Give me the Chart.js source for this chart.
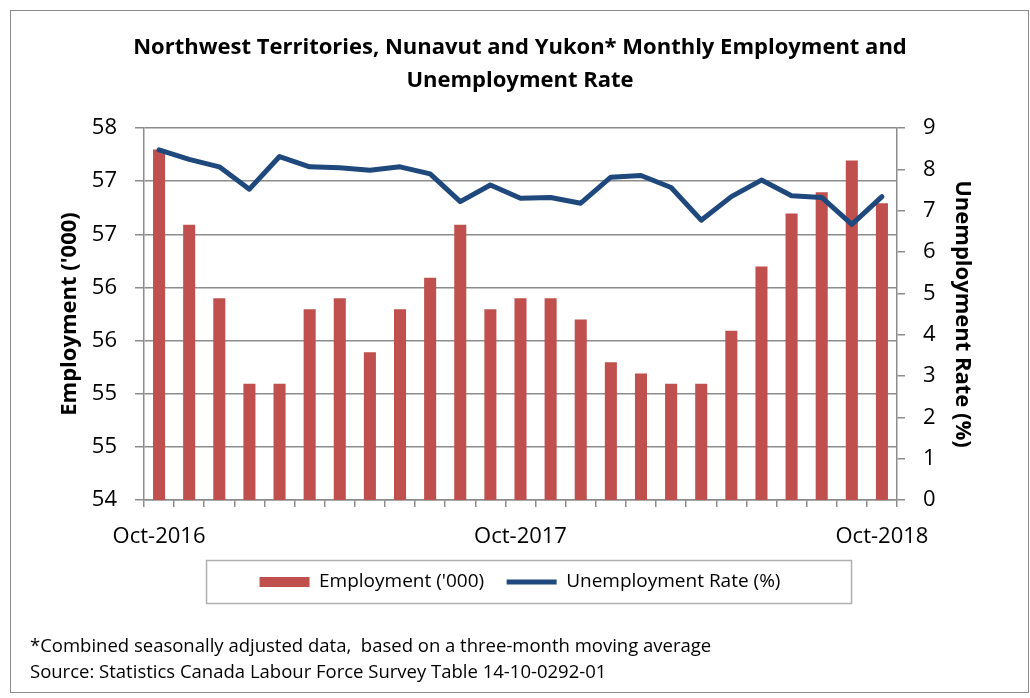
<!DOCTYPE html>
<html>
<head>
<meta charset="utf-8">
<script src="https://cdn.jsdelivr.net/npm/chart.js@4.4.1/dist/chart.umd.min.js"></script>
<style>
  body { margin: 0; background: #fff; }
  #wrap { position: relative; width: 1030px; height: 698px; }
  #frame { position: absolute; left: 10px; top: 10px; width: 1017px; height: 681px; border: 1.5px solid #8c8c8c; pointer-events: none; }
  #notes { position: absolute; left: 30px; top: 632px; font-family: "Open Sans", sans-serif; font-size: 18.5px; line-height: 26px; color: #000; white-space: pre; }
</style>
</head>
<body>
<div id="wrap">
  <canvas id="empChart" width="1030" height="698"></canvas>
  <div id="frame"></div>
  <div id="notes">*Combined seasonally adjusted data,  based on a three-month moving average
Source: Statistics Canada Labour Force Survey Table 14-10-0292-01</div>
</div>
<script>
const months = ['Oct-2016', 'Nov-2016', 'Dec-2016', 'Jan-2017', 'Feb-2017', 'Mar-2017', 'Apr-2017',
  'May-2017', 'Jun-2017', 'Jul-2017', 'Aug-2017', 'Sep-2017', 'Oct-2017', 'Nov-2017', 'Dec-2017',
  'Jan-2018', 'Feb-2018', 'Mar-2018', 'Apr-2018', 'May-2018', 'Jun-2018', 'Jul-2018', 'Aug-2018',
  'Sep-2018', 'Oct-2018'];
const employment = [57.77, 56.96, 56.17, 55.25, 55.25, 56.05, 56.17, 55.59, 56.05, 56.39, 56.96, 56.05,
  56.17, 56.17, 55.94, 55.48, 55.36, 55.25, 55.25, 55.82, 56.51, 57.08, 57.31, 57.65, 57.19];
const unemployment = [8.47, 8.24, 8.06, 7.52, 8.31, 8.06, 8.04, 7.98, 8.06, 7.89, 7.22, 7.62,
  7.30, 7.32, 7.18, 7.81, 7.85, 7.56, 6.77, 7.34, 7.74, 7.36, 7.32, 6.67, 7.34];

const FONT = '"Open Sans", sans-serif';
const GRID = '#8c8c8c';

Chart.defaults.color = '#000';
Chart.defaults.font.family = FONT;

// border round the legend, like the Excel legend box
const legendFrame = {
  id: 'legendFrame',
  afterDraw(chart) {
    const boxes = chart.legend.legendHitBoxes;
    if (!boxes || !boxes.length) return;
    const first = boxes[0];
    const cy = first.top + first.height / 2;
    const ctx = chart.ctx;
    ctx.save();
    ctx.strokeStyle = '#b0b0b0';
    ctx.lineWidth = 1.5;
    ctx.strokeRect(first.left - 53, cy - 21.5, 645, 43);
    ctx.restore();
  }
};

let ctx = document.getElementById('empChart');

let data = {
  labels: months,
  datasets: [{
    type: 'bar',
    label: "Employment ('000)",
    data: employment,
    yAxisID: 'y',
    backgroundColor: '#C0504D',
    borderWidth: 0,
    barPercentage: 0.4,
    categoryPercentage: 1,
    pointStyle: 'rect',
    order: 1
  }, {
    type: 'line',
    label: 'Unemployment Rate (%)',
    data: unemployment,
    yAxisID: 'y1',
    borderColor: '#1F497D',
    backgroundColor: '#1F497D',
    borderWidth: 5,
    pointRadius: 0,
    tension: 0,
    borderCapStyle: 'round',
    borderJoinStyle: 'round',
    pointStyle: 'line',
    order: 0
  }]
};

let options = {
  responsive: false,
  animation: false,
  devicePixelRatio: 1,
  layout: { padding: { left: 10, right: 0, top: 0, bottom: 96.5 } },
  plugins: {
    tooltip: { enabled: false },
    title: {
      display: true,
      text: ['Northwest Territories, Nunavut and Yukon* Monthly Employment and', 'Unemployment Rate'],
      font: { family: FONT, size: 22, weight: 'bold', lineHeight: 1.5 },
      padding: { top: 31, bottom: 31 }
    },
    legend: {
      display: true,
      position: 'bottom',
      labels: {
        usePointStyle: true,
        pointStyleWidth: 50,
        boxWidth: 50,
        boxHeight: 10,
        padding: 22.5,
        font: { family: FONT, size: 19 },
        sort: (a, b) => a.datasetIndex - b.datasetIndex
      }
    }
  },
  scales: {
    x: {
      type: 'category',
      offset: true,
      afterFit: (axis) => { axis.height = 50; },
      grid: { offset: true, drawOnChartArea: false, drawTicks: true, tickLength: 7, color: GRID, lineWidth: 1.5 },
      border: { color: GRID, width: 1.5 },
      ticks: {
        autoSkip: false,
        maxRotation: 0,
        minRotation: 0,
        padding: 17,
        font: { family: FONT, size: 22 },
        callback: function (value, index) { return index % 12 === 0 ? this.getLabelForValue(value) : ''; }
      }
    },
    y: {
      position: 'left',
      min: 54,
      max: 58,
      afterFit: (axis) => { axis.width = 134; },
      grid: { color: GRID, lineWidth: 1.5, tickLength: 9 },
      border: { color: GRID, width: 1.5 },
      ticks: {
        count: 8,
        padding: 18,
        font: { family: FONT, size: 22 },
        callback: (v) => Math.round(v)
      },
      title: {
        display: true,
        text: "Employment ('000)",
        font: { family: FONT, size: 22, weight: 'bold', lineHeight: 1.2 },
        padding: { top: 47, bottom: 0 }
      }
    },
    y1: {
      position: 'right',
      min: 0,
      max: 9,
      afterFit: (axis) => { axis.width = 133; },
      grid: { drawOnChartArea: false, color: GRID, lineWidth: 1.5, tickLength: 8 },
      border: { color: GRID, width: 1.5 },
      ticks: {
        stepSize: 1,
        padding: 18,
        font: { family: FONT, size: 22 }
      },
      title: {
        display: true,
        text: 'Unemployment Rate (%)',
        font: { family: FONT, size: 22, weight: 'bold', lineHeight: 1.2 },
        padding: { top: 55, bottom: 0 }
      }
    }
  }
};

let empChart = new Chart(ctx, {
  data: data,
  options: options,
  plugins: [legendFrame]
});
</script>
</body>
</html>
